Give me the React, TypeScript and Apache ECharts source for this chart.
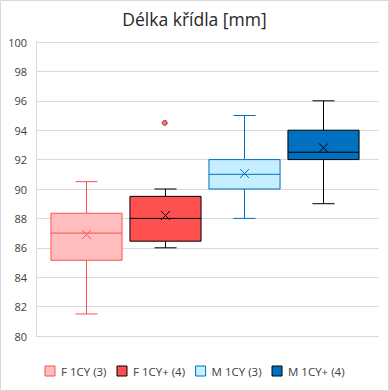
import React, { useEffect, useRef } from "react";
import * as echarts from "echarts";

const categories = ["F 1CY (3)", "F 1CY+ (4)", "M 1CY (3)", "M 1CY+ (4)"];
const mins = [81.5, 86, 88, 89];
const q1s = [85.15, 86.45, 90, 92];
const medians = [87, 88, 91, 92.5];
const q3s = [88.35, 89.5, 92, 94];
const maxs = [90.5, 90, 95, 96];
const means = [86.9, 88.2, 91.05, 92.8];
const outliers: [number, number][] = [[1, 94.5]];
const yTicks = [80, 82, 84, 86, 88, 90, 92, 94, 96, 98, 100];

const fills = ["#FFBDBD", "#FF5050", "#C5EEFF", "#0070C0"];
const strokes = ["#FF5050", "#000000", "#0070C0", "#000000"];

const BOX_W = 0.9;
const CAP_W = 0.28;
const FONT = "'Open Sans', 'Noto Sans', sans-serif";

export default function App() {
  const ref = useRef<HTMLDivElement>(null);
  useEffect(() => {
    if (!ref.current) return;
    const chart = echarts.init(ref.current, undefined, { renderer: "svg" });
    const boxSeries = categories.map((name, i) => ({
      name,
      type: "custom",
      data: [[i, mins[i], q1s[i], medians[i], q3s[i], maxs[i], means[i]]],
      itemStyle: { color: fills[i], borderColor: strokes[i] },
      renderItem: (params: any, api: any) => {
        const x = api.value(0);
        const lo = api.coord([x, api.value(1)]);
        const q1 = api.coord([x, api.value(2)]);
        const med = api.coord([x, api.value(3)]);
        const q3 = api.coord([x, api.value(4)]);
        const hi = api.coord([x, api.value(5)]);
        const mn = api.coord([x, api.value(6)]);
        const w = api.size([BOX_W, 0])[0];
        const cw = api.size([CAP_W, 0])[0];
        const cx = Math.round(lo[0]) + 0.5;
        const ls = { stroke: strokes[i], lineWidth: 1 };
        const m = 4.5;
        return {
          type: "group",
          children: [
            { type: "line", shape: { x1: cx, y1: hi[1], x2: cx, y2: q3[1] }, style: ls },
            { type: "line", shape: { x1: cx, y1: q1[1], x2: cx, y2: lo[1] }, style: ls },
            { type: "line", shape: { x1: cx - cw / 2, y1: hi[1], x2: cx + cw / 2, y2: hi[1] }, style: ls },
            { type: "line", shape: { x1: cx - cw / 2, y1: lo[1], x2: cx + cw / 2, y2: lo[1] }, style: ls },
            {
              type: "rect",
              shape: { x: cx - w / 2, y: q3[1], width: w, height: q1[1] - q3[1] },
              style: { fill: fills[i], stroke: strokes[i], lineWidth: 1 },
            },
            { type: "line", shape: { x1: cx - w / 2, y1: med[1], x2: cx + w / 2, y2: med[1] }, style: ls },
            { type: "line", shape: { x1: cx - m, y1: mn[1] - m, x2: cx + m, y2: mn[1] + m }, style: ls },
            { type: "line", shape: { x1: cx - m, y1: mn[1] + m, x2: cx + m, y2: mn[1] - m }, style: ls },
          ],
        };
      },
      z: 2,
    }));
    chart.setOption({
      animation: false,
      backgroundColor: "#ffffff",
      title: {
        text: "Délka křídla [mm]",
        left: "center",
        top: 5,
        textStyle: { fontFamily: FONT, fontSize: 17.5, fontWeight: "normal", color: "#262626" },
      },
      grid: { left: 36, top: 42, width: 343, height: 294 },
      xAxis: {
        type: "value",
        min: -0.63,
        max: 3.712,
        show: false,
      },
      yAxis: {
        type: "value",
        min: yTicks[0],
        max: yTicks[yTicks.length - 1],
        interval: 2,
        axisLine: { show: true, onZero: false, lineStyle: { color: "#D9D9D9" } },
        axisTick: { show: false },
        splitLine: { lineStyle: { color: "#D9D9D9" } },
        axisLabel: { fontFamily: FONT, fontSize: 11, color: "#404040", margin: 9 },
      },
      legend: {
        data: categories.map((name, i) => ({
          name,
          icon: "rect",
          itemStyle: { color: fills[i], borderColor: strokes[i], borderWidth: 1 },
        })),
        left: "center",
        top: 360,
        itemWidth: 10,
        itemHeight: 10,
        itemGap: 10,
        textStyle: { fontFamily: FONT, fontSize: 11.5, color: "#404040", padding: [0, 0, 0, 1] },
      },
      graphic: [
        {
          type: "rect",
          shape: { x: 0.5, y: 0.5, width: 388, height: 390 },
          style: { fill: "none", stroke: "#D9D9D9", lineWidth: 1 },
          z: 100,
        },
      ],
      series: [
        ...boxSeries,
        {
          name: "outliers",
          type: "scatter",
          data: outliers,
          symbol: "circle",
          symbolSize: 5,
          itemStyle: { color: "#FF5050", borderColor: "#7a1f1f", borderWidth: 1 },
          z: 3,
        },
      ],
    });
    return () => chart.dispose();
  }, []);
  return (
    <div
      ref={ref}
      style={{ position: "fixed", left: 0, top: 0, width: 389, height: 391 }}
    />
  );
}
